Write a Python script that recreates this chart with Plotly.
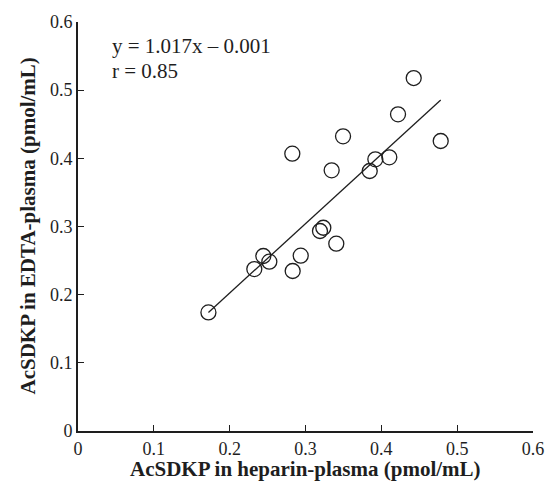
import plotly.graph_objects as go

# AcSDKP measured in paired plasma samples (pmol/mL)
heparin = [0.172, 0.2325, 0.2444, 0.2523, 0.2831, 0.2937, 0.2826, 0.3191, 0.3235,
           0.3406, 0.3345, 0.3495, 0.3847, 0.3921, 0.4105, 0.422, 0.4427, 0.4783]
edta = [0.174, 0.2376, 0.2567, 0.2484, 0.2347, 0.2572, 0.4068, 0.2934, 0.2982,
        0.2748, 0.3824, 0.4323, 0.3814, 0.3986, 0.4015, 0.4646, 0.5178, 0.4254]

# Regression line: y = 1.017x - 0.001
slope = 1.017
intercept = -0.001
r_value = 0.85

tick_vals = [0, 0.1, 0.2, 0.3, 0.4, 0.5, 0.6]
tick_text = ["0", "0.1", "0.2", "0.3", "0.4", "0.5", "0.6"]

x_title = "AcSDKP in heparin-plasma (pmol/mL)"
y_title = "AcSDKP in EDTA-plasma (pmol/mL)"

ink = "#1e1e1e"
serif = "Liberation Serif, Times New Roman, serif"

fit_x = [min(heparin), max(heparin)]
fit_y = [slope * v + intercept for v in fit_x]

fig = go.Figure()
fig.add_trace(go.Scatter(
    x=fit_x, y=fit_y, mode="lines",
    line=dict(color=ink, width=1.3), hoverinfo="skip", showlegend=False,
))
fig.add_trace(go.Scatter(
    x=heparin, y=edta, mode="markers",
    marker=dict(symbol="circle-open", size=15, color=ink, line=dict(color=ink, width=1.3)),
    showlegend=False,
))

# Regression equation and correlation coefficient
eq_lines = [f"y = {slope:.3f}x \u2013 {abs(intercept):.3f}", f"r = {r_value:.2f}"]
for text, yy in zip(eq_lines, [0.5648, 0.528]):
    fig.add_annotation(
        x=0.042, y=yy, xref="x", yref="y", text=text, showarrow=False,
        xanchor="left", yanchor="middle", align="left",
        font=dict(family=serif, size=21, color=ink),
    )

# Axis titles placed in paper space
fig.add_annotation(
    x=0.5, y=-0.093, xref="paper", yref="paper", yanchor="middle", xanchor="center",
    text=f"<b>{x_title}</b>", showarrow=False,
    font=dict(family=serif, size=21, color=ink),
)
fig.add_annotation(
    x=-0.112, y=0.5, xref="paper", yref="paper", xanchor="center", yanchor="middle",
    text=f"<b>{y_title}</b>", showarrow=False, textangle=-90,
    font=dict(family=serif, size=21, color=ink),
)

axis_common = dict(
    range=[0, 0.6], tickmode="array", tickvals=tick_vals, ticktext=tick_text,
    ticks="inside", ticklen=6, tickwidth=1.3, tickcolor=ink,
    showline=True, linecolor=ink, linewidth=1.8, showgrid=False, zeroline=False,
    tickfont=dict(family=serif, size=18, color=ink), automargin=False,
)

fig.update_layout(
    width=545, height=482,
    margin=dict(l=78, r=12, t=22, b=51),
    plot_bgcolor="white", paper_bgcolor="white",
    xaxis=dict(**axis_common, ticklabelstandoff=0),
    yaxis=dict(**axis_common),
)

fig.write_html("out.html")
